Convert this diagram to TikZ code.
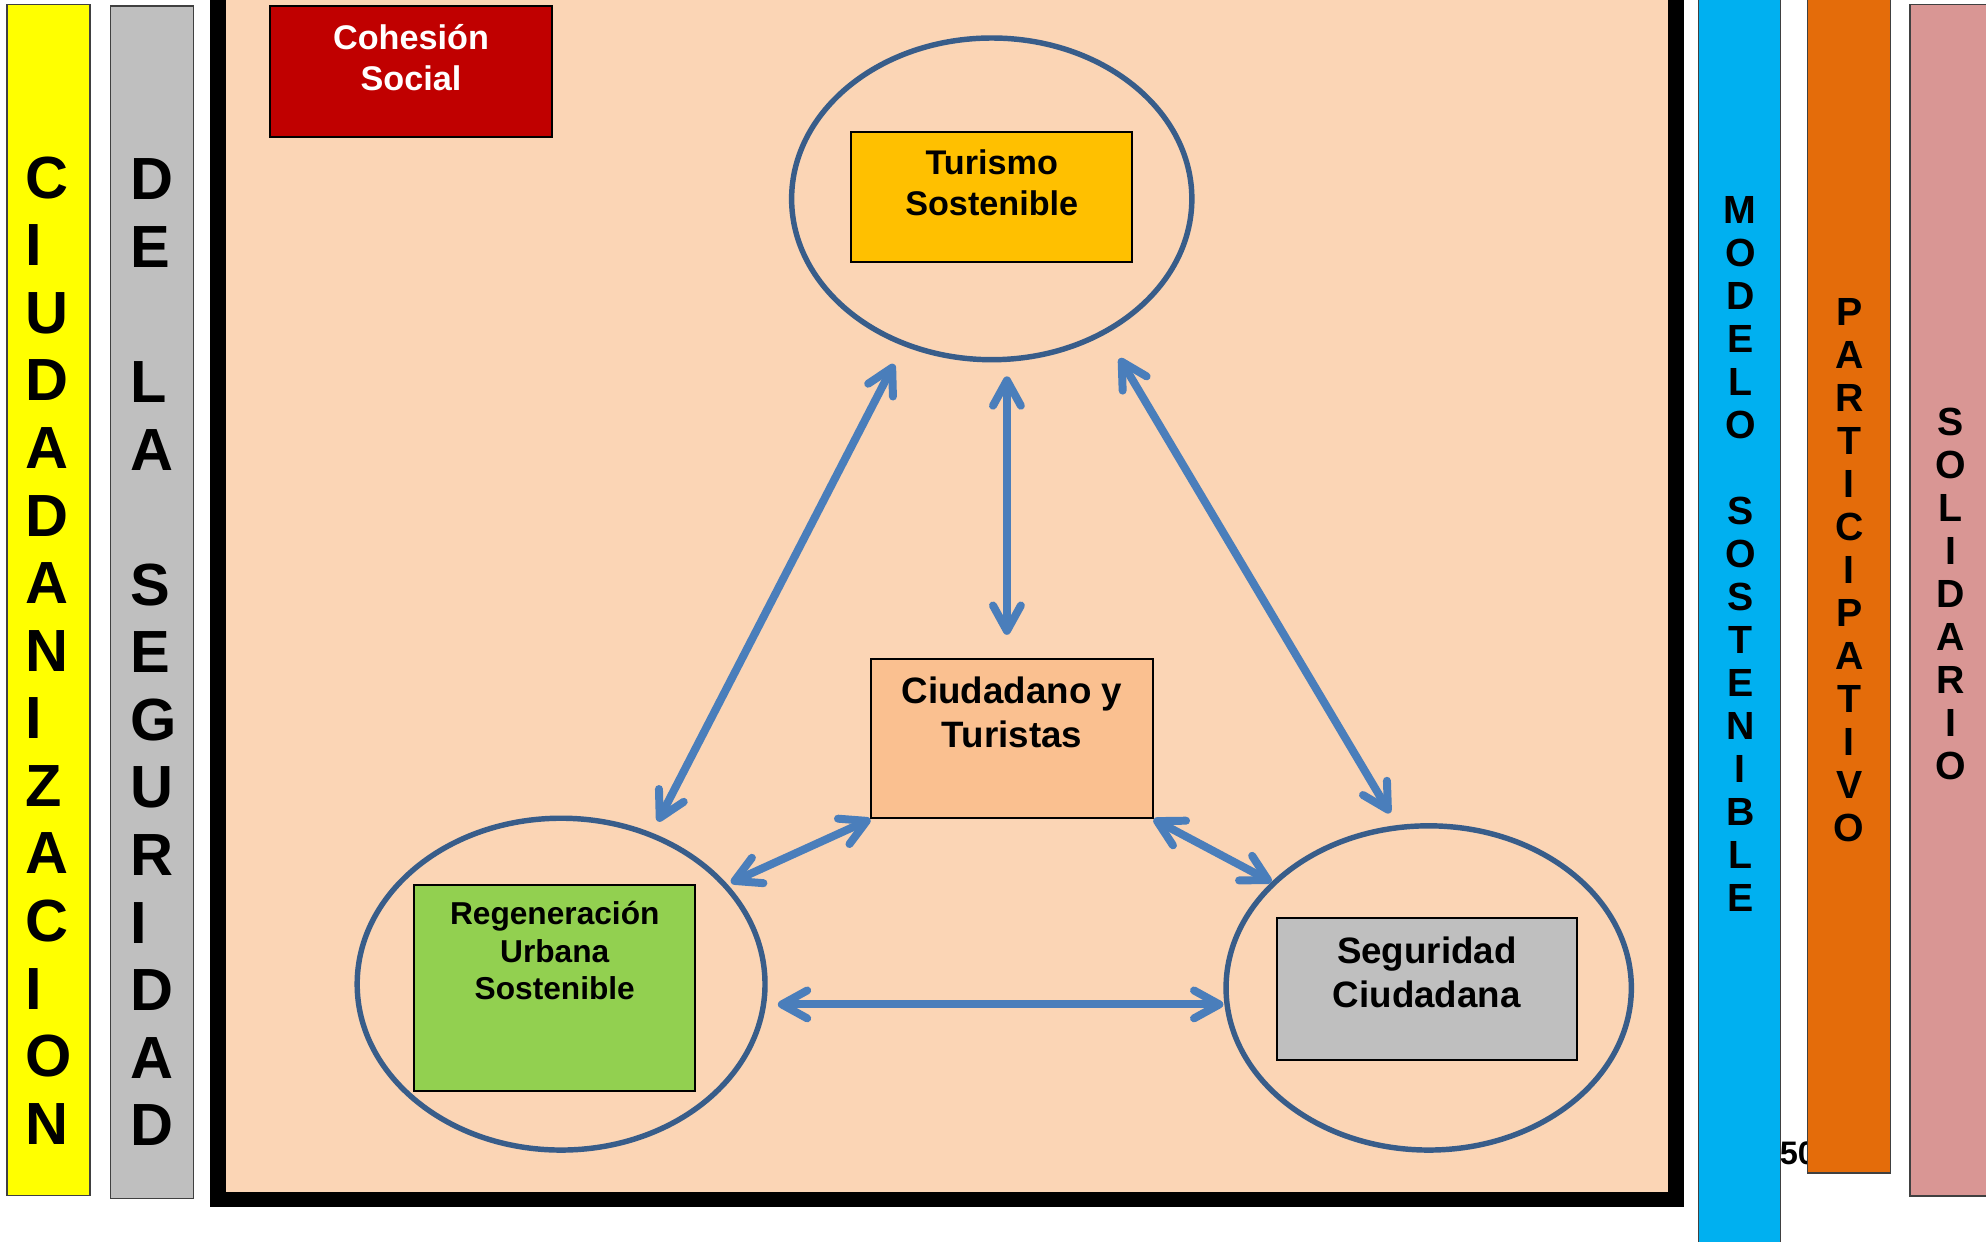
\documentclass[tikz,border=0pt]{standalone}
\usepackage{fontspec}
\setmainfont{Liberation Sans}
\usetikzlibrary{positioning,arrows.meta,shapes.geometric}

\definecolor{barYellow}{HTML}{FFFF00}
\definecolor{barGray}{HTML}{BFBFBF}
\definecolor{barBlue}{HTML}{00B0F0}
\definecolor{barOrange}{HTML}{E46C0A}
\definecolor{barPink}{HTML}{D99694}
\definecolor{panel}{HTML}{FBD5B5}
\definecolor{cohRed}{HTML}{C00000}
\definecolor{turGold}{HTML}{FFC000}
\definecolor{ciuPeach}{HTML}{FAC090}
\definecolor{regGreen}{HTML}{92D050}
\definecolor{ringBlue}{HTML}{385D8A}
\definecolor{arrBlue}{HTML}{4A7EBB}

\begin{document}
\begin{tikzpicture}[
  x=1pt, y=-1pt,
  bar/.style={draw=black!75, line width=1pt},
  bigletters/.style={align=left, inner sep=0pt, anchor=west,
    font=\bfseries\fontsize{47}{53.36}\selectfont},
  smallletters/.style={align=center, inner sep=0pt,
    font=\bfseries\fontsize{31}{33.94}\selectfont},
  ring/.style={ellipse, draw=ringBlue, line width=4.3pt, inner sep=0pt},
  topic/.style={rectangle, draw=black, line width=1.6pt, inner sep=0pt},
  topictxt/.style={align=center, inner sep=0pt},
  arr/.style={{Straight Barb[length=20pt,width=22pt,round]}-{Straight Barb[length=20pt,width=22pt,round]},
    line width=6.3pt, draw=arrBlue}
]
\useasboundingbox (0,0) rectangle (1568,980);
\clip (0,0) rectangle (1568,980);

% left bars
\draw[bar, fill=barYellow] (5.5,3.5) rectangle (71,944);
\draw[bar, fill=barGray] (87,4.7) rectangle (152.6,946);
\node[bigletters] (ciudadania) at (20,513.5)
  {C\\I\\U\\D\\A\\D\\A\\N\\I\\Z\\A\\C\\I\\O\\N};
\node[bigletters] (delaseg) at (102.5,515)
  {D\\E\\ \\L\\A\\ \\S\\E\\G\\U\\R\\I\\D\\A\\D};

% panel
\draw[line width=12.5pt, fill=panel] (172,-30) rectangle (1323,947);

\node[topic, fill=cohRed, minimum width=223pt, minimum height=103pt] (coh) at (324.5,56.5) {};
\node[topictxt, text=white, font=\bfseries\fontsize{27}{32}\selectfont, below=15pt of coh.north] (cohT)
  {Cohesión\\Social};

% rings
\node[ring, minimum width=316pt, minimum height=254pt] (ctur) at (783,157) {};
\node[ring, minimum width=322pt, minimum height=262pt] (creg) at (443,777) {};
\node[ring, minimum width=320pt, minimum height=256pt] (cseg) at (1128,780) {};

% boxes
\node[topic, fill=turGold, minimum width=222pt, minimum height=103pt] (tur) at (783,155.5) {};
\node[topictxt, font=\bfseries\fontsize{27}{32}\selectfont, below=15pt of tur.north] (turT)
  {Turismo\\Sostenible};

\node[topic, fill=ciuPeach, minimum width=222pt, minimum height=126pt] (ciu) at (799,583) {};
\node[topictxt, font=\bfseries\fontsize{29}{35}\selectfont, below=15pt of ciu.north] (ciuT)
  {Ciudadano y\\Turistas};

\node[topic, fill=regGreen, minimum width=222pt, minimum height=162pt] (reg) at (438,780) {};
\node[topictxt, font=\bfseries\fontsize{25}{29.5}\selectfont, below=13.5pt of reg.north] (regT)
  {Regeneración\\Urbana\\Sostenible};

\node[topic, fill=barGray, minimum width=237pt, minimum height=112pt] (seg) at (1126.5,781) {};
\node[topictxt, font=\bfseries\fontsize{29}{35}\selectfont, below=15pt of seg.north] (segT)
  {Seguridad\\Ciudadana};

% arrows
\draw[arr, shorten <=10pt, shorten >=16pt] (creg.59) -- (ctur.239);
\draw[arr, shorten <=11pt, shorten >=18pt] ([xshift=-4pt]ciu.north |- ctur.south) -- ([xshift=-4pt]ciu.north);
\draw[arr, shorten <=22pt, shorten >=11pt] (ctur.310) -- (cseg.101);
\draw[arr, shorten >=3pt] (ciu.south west) -- (creg.31);
\draw[arr] (ciu.south east) -- (cseg.146);
\draw[arr, shorten <=8pt] ([yshift=-16pt]creg.east) -- ([yshift=-16pt]creg.east -| cseg.west);

% right bars
\node[anchor=base west, inner sep=0pt, font=\bfseries\fontsize{25.7}{30}\selectfont] (pagenum) at (1405,919) {50};
\draw[bar, fill=barBlue] (1341,-5) rectangle (1406,990);
\draw[bar, fill=barOrange] (1427,-5) rectangle (1492.5,926);
\draw[bar, fill=barPink] (1508,3.7) rectangle (1575,944.3);
\node[smallletters] (modelo) at (1374,437.5)
  {M\\O\\D\\E\\L\\O\\ \\S\\O\\S\\T\\E\\N\\I\\B\\L\\E};
\node[smallletters] (particip) at (1460,450.5)
  {P\\A\\R\\T\\I\\C\\I\\P\\A\\T\\I\\V\\O};
\node[smallletters] (solid) at (1540,469)
  {S\\O\\L\\I\\D\\A\\R\\I\\O};
\end{tikzpicture}
\end{document}
